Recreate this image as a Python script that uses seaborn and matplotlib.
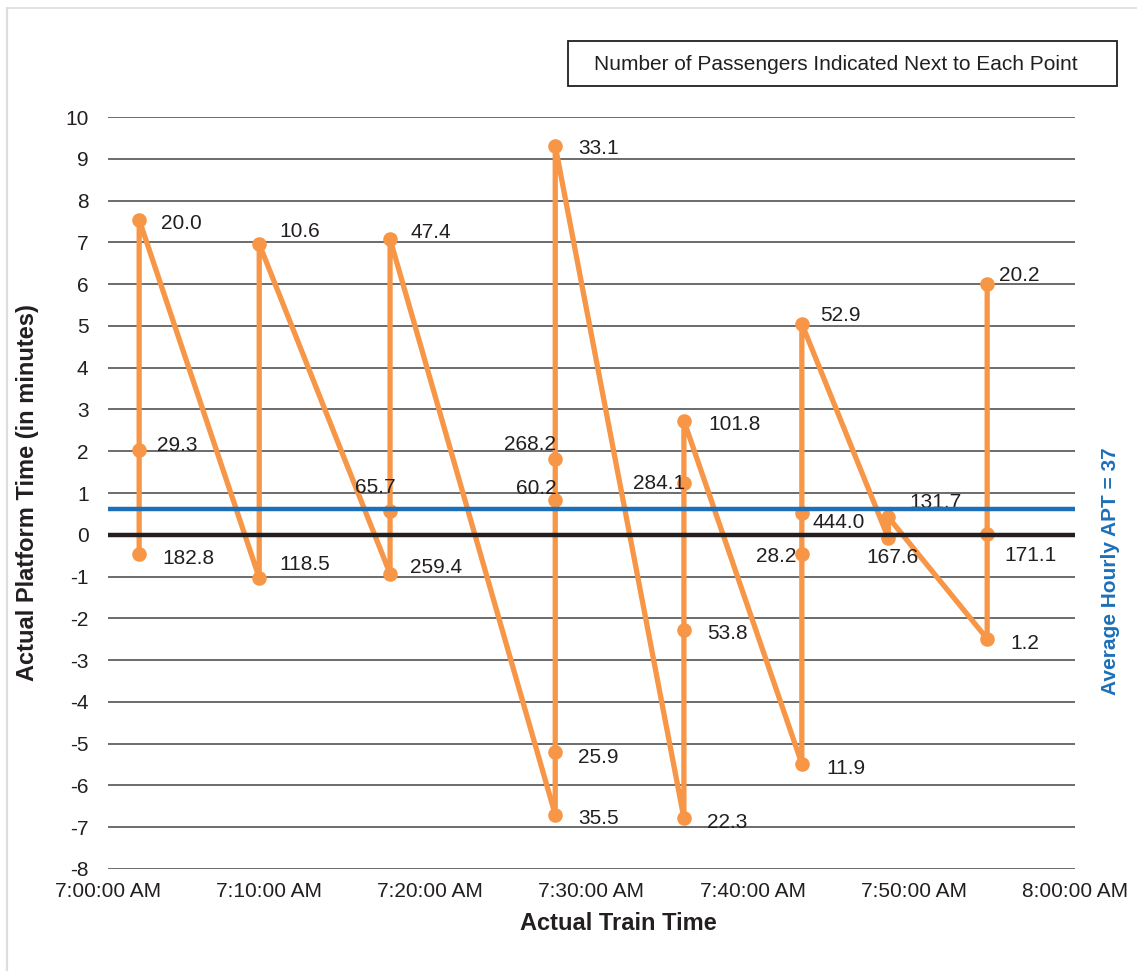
import matplotlib
matplotlib.use("Agg")
import matplotlib.pyplot as plt
import matplotlib.dates as mdates
from matplotlib.patches import Rectangle
from matplotlib.lines import Line2D
import seaborn as sns
import pandas as pd

# Arrival time of each train; every train has several cars plotted at the same time
train_times = ["07:01:56", "07:09:23", "07:17:30", "07:27:45",
               "07:35:44", "07:43:03", "07:48:25", "07:54:33"]

# Actual platform time (minutes) per car, grouped by train
platform_minutes = [
    [-0.47, 2.03, 7.54],
    [-1.03, 6.96],
    [-0.93, 0.56, 7.08],
    [-6.70, -5.20, 0.84, 1.82, 9.31],
    [-6.78, -2.27, 1.24, 2.73],
    [-5.48, -0.46, 0.53, 5.05],
    [-0.08, 0.42],
    [-2.49, 0.02, 6.00],
]

# Number of passengers per point
passengers = [
    [182.8, 29.3, 20.0],
    [118.5, 10.6],
    [259.4, 65.7, 47.4],
    [35.5, 25.9, 60.2, 268.2, 33.1],
    [22.3, 53.8, 284.1, 101.8],
    [11.9, 28.2, 444.0, 52.9],
    [167.6, 131.7],
    [1.2, 171.1, 20.2],
]

average_apt_seconds = 37
tick_times = ["07:00", "07:10", "07:20", "07:30", "07:40", "07:50", "08:00"]
y_ticks = list(range(-8, 11))

# Label placement (dx px, dy px, horizontal alignment) for each point
label_place = [
    [(23, -4, "left"), (18, 4, "left"), (22, -4, "left")],
    [(20, 13, "left"), (20, 13, "left")],
    [(20, 6, "left"), (6, 24, "right"), (20, 6, "left")],
    [(23, -4, "left"), (23, -5, "left"), (1, 11, "right"), (1, 14, "right"), (23, -3, "left")],
    [(23, -4, "left"), (23, -4, "left"), (1, -1, "right"), (24, -4, "left")],
    [(25, -5, "left"), (-5, -3, "right"), (11, -10, "left"), (18, 8, "left")],
    [(4, -19, "center"), (21, 15, "left")],
    [(23, -5, "left"), (17, -22, "left"), (12, 9, "left")],
]

rows = []
for t, ys, ps, pl in zip(train_times, platform_minutes, passengers, label_place):
    for y, p, place in zip(ys, ps, pl):
        rows.append({"time": pd.Timestamp("2020-01-01 " + t), "apt": y,
                     "pax": p, "place": place})
df = pd.DataFrame(rows)

sns.set_theme(style="white")
plt.rcParams["font.family"] = ["Liberation Sans", "DejaVu Sans"]
plt.rcParams["axes.unicode_minus"] = False

W, H = 1137, 971
fig = plt.figure(figsize=(W / 100, H / 100), dpi=100)
ax = fig.add_axes([108 / W, 1 - 869 / H, (1075 - 108) / W, (869 - 117) / H])

text_color = "#231F20"
orange = "#F79646"
blue = "#1C70B8"

sns.lineplot(data=df, x="time", y="apt", sort=False, estimator=None,
             color=orange, linewidth=3.8, marker="o", markersize=10.5,
             markeredgewidth=0, ax=ax, zorder=3)

# Horizontal gridlines
for yv in y_ticks:
    ax.axhline(yv, color="#444444", linewidth=1.1, zorder=1)
ax.axhline(0, color="#231F20", linewidth=3.2, zorder=4)
ax.axhline(average_apt_seconds / 60, color=blue, linewidth=3.2, zorder=5)

for _, r in df.iterrows():
    dx, dy, ha = r["place"]
    ax.annotate(f"{r['pax']:.1f}", (r["time"], r["apt"]), xytext=(dx, dy),
                textcoords="offset pixels", ha=ha, va="center",
                fontsize=15, color=text_color, zorder=4)

ticks = [pd.Timestamp("2020-01-01 " + t) for t in tick_times]
ax.set_xlim(ticks[0], ticks[-1])
ax.set_ylim(-8, 10)
ax.set_xticks(ticks)
ax.xaxis.set_major_formatter(mdates.DateFormatter("%-I:%M:%S %p"))
ax.set_yticks(y_ticks)
ax.tick_params(axis="both", length=0, labelsize=15, colors=text_color)
ax.tick_params(axis="x", pad=9)
ax.tick_params(axis="y", pad=14)
for s in ax.spines.values():
    s.set_visible(False)

ax.set_xlabel("Actual Train Time", fontsize=17, fontweight="bold", color=text_color)
ax.set_ylabel("Actual Platform Time (in minutes)", fontsize=17,
              fontweight="bold", color=text_color)
ax.xaxis.label.set_va("center")
ax.xaxis.set_label_coords((618 - 108) / (1075 - 108), (869 - 923) / (869 - 117))
ax.yaxis.label.set_va("center")
ax.yaxis.set_label_coords((28 - 108) / (1075 - 108), 0.5)

fig.text(1110 / W, 1 - 571 / H, f"Average Hourly APT = {average_apt_seconds}",
         rotation=90, ha="center", va="center", fontsize=15,
         fontweight="bold", color=blue)

# Note box
fig.patches.append(Rectangle((568 / W, 1 - 86 / H), (1117 - 568) / W, 45 / H,
                             transform=fig.transFigure, fill=False,
                             edgecolor=text_color, linewidth=1.3))
fig.text(836 / W, 1 - 64 / H, "Number of Passengers Indicated Next to Each Point",
         ha="center", va="center", fontsize=15, color=text_color)

# Light frame on the top and left edges
fig.lines.append(Line2D([7 / W, 7 / W], [0, 1 - 8 / H], transform=fig.transFigure,
                        color="#DDDDDD", linewidth=1.6))
fig.lines.append(Line2D([7 / W, 1], [1 - 8 / H, 1 - 8 / H], transform=fig.transFigure,
                        color="#DDDDDD", linewidth=1.2))

fig.savefig("out.png", dpi=100)
